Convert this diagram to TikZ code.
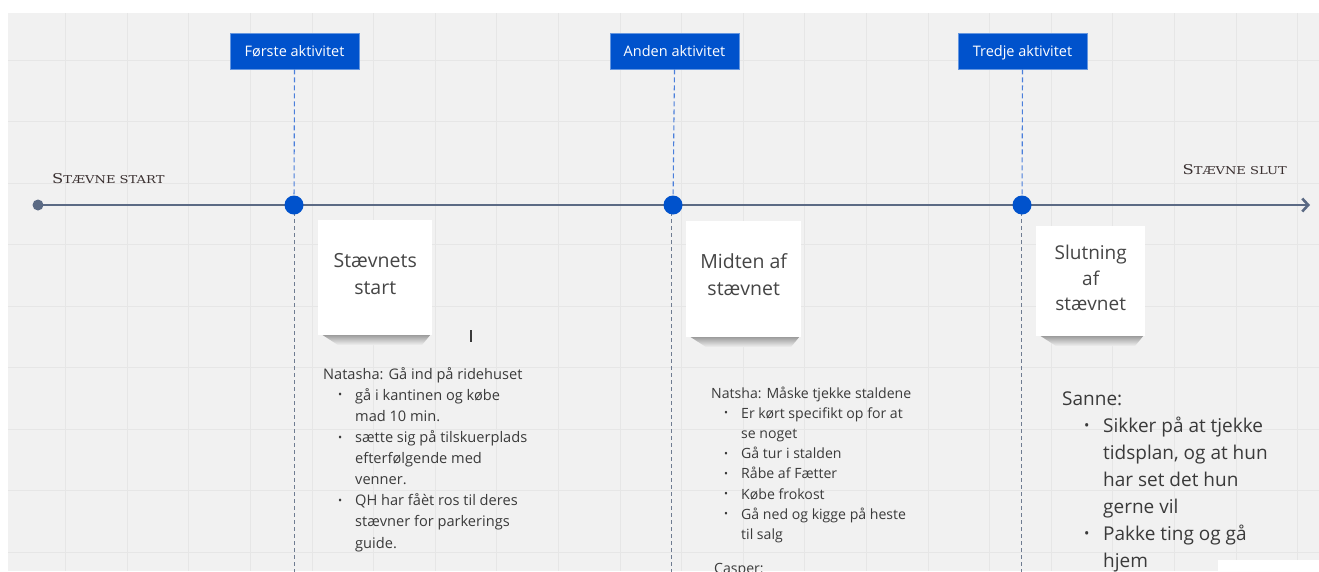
\documentclass[tikz,border=0pt]{standalone}
\usepackage{fontspec}
\newfontfamily\osans{Open Sans}
\newfontfamily\slab{DejaVu Serif}
\usetikzlibrary{arrows.meta}
\definecolor{canvas}{HTML}{F1F1F1}
\definecolor{gridc}{HTML}{E6E6E6}
\definecolor{slate}{HTML}{5B6A84}
\definecolor{actblue}{HTML}{0052CC}
\definecolor{dashblue}{HTML}{4A7FDB}
\definecolor{dashgray}{HTML}{6F7C91}
\definecolor{ink}{HTML}{3A3A3A}
\definecolor{headink}{HTML}{3A3030}
\definecolor{noteink}{HTML}{454545}
\tikzset{
  gridline/.style={gridc, line width=1pt},
  timeline/.style={slate, line width=2.6pt, -{Straight Barb[length=6pt,width=13pt,line width=2.6pt]}},
  startdot/.style={circle, fill=slate, minimum size=11pt, inner sep=0pt},
  bluedot/.style={circle, fill=actblue, minimum size=19pt, inner sep=0pt},
  actbox/.style={rectangle, fill=actblue, draw=actblue!60!white, line width=0.6pt,
    minimum width=129pt, minimum height=36pt, inner sep=0pt, text=white,
    text height=12.5pt, text depth=2.5pt,
    font=\osans\fontsize{14.5}{16}\selectfont},
  dashup/.style={dashblue, line width=1.1pt, dash pattern=on 5pt off 3pt},
  dashdown/.style={dashgray, line width=1pt, dash pattern=on 4pt off 3pt},
  endlabel/.style={text=headink, inner sep=0pt, font=\slab},
  note/.style={rectangle, fill=white!98!canvas, inner sep=0pt, anchor=north west},
  notelabel/.style={inner sep=0pt, align=center, text=noteink},
  notetext/.style={text=ink, inner sep=0pt, anchor=base west, align=left},
}
% small bullet for list items
\newcommand{\bl}[1]{\hspace*{#1}\makebox[0pt][l]{\raisebox{0.1em}{\scalebox{0.75}{•}}}}
% hand-set small capitals, widened
\newcommand{\smc}[2]{\scalebox{1.21}[1]{{\fontsize{13.5}{15}\selectfont #1}{\fontsize{10.8}{15}\selectfont #2}}}
\begin{document}
\begin{tikzpicture}[x=1pt,y=-1pt]
\useasboundingbox (0,0) rectangle (1319,571);
\begin{scope}
\clip (0,0) rectangle (1319,571);
% canvas and grid
\fill[white] (0,0) rectangle (1319,571);
\fill[canvas] (8,13) rectangle (1319,571);
\foreach \i in {0,...,20} \draw[gridline] ({65.7+61.6*\i},13) -- ++(0,558);
\foreach \j in {0,...,8} \draw[gridline] (8,{60+61.5*\j}) -- ++(1311,0);

% activity labels
\node[actbox] (b1) at (294.5,51) {Første aktivitet};
\node[actbox] (b2) at (674.5,51) {Anden aktivitet};
\node[actbox] (b3) at (1022.5,51) {Tredje aktivitet};

% timeline with its milestones
\node[startdot] (s) at (38,205) {};
\coordinate (e) at (1310,205);
\coordinate (d1p) at (294,205);
\coordinate (d2p) at (673,205);
\coordinate (d3p) at (1022,205);
\coordinate (f1) at (294,575);
\coordinate (f2) at (671,575);
\coordinate (f3) at (1021,575);
\draw[dashup] (b1.south) -- (d1p);
\draw[dashup] (b2.south) -- (d2p);
\draw[dashup] (b3.south) -- (d3p);
\draw[dashdown] (d1p) -- (f1);
\draw[dashdown] (671,205) -- (f2);
\draw[dashdown] (1021,205) -- (f3);
\draw[timeline] (s.center) -- (e);
\node[bluedot] (d1) at (d1p) {};
\node[bluedot] (d2) at (d2p) {};
\node[bluedot] (d3) at (d3p) {};

\node[endlabel, anchor=base west] (ls) at (52,183) {\smc{S}{TÆVNE START}};
\node[endlabel, anchor=base east] (le) at (1287,174) {\smc{S}{TÆVNE SLUT}};

% sticky notes with their soft shadows
\foreach \x/\y/\w/\h in {318/220/114/115, 686/221/115/116, 1036/226/109/110}{
  \shade[top color=black!42, bottom color=canvas]
    (\x+3,\y+\h-1) -- (\x+\w-1,\y+\h-1) -- (\x+\w-10,\y+\h+10) -- (\x+20,\y+\h+10) -- cycle;
}
\node[note, minimum width=114pt, minimum height=115pt] (n1) at (318,220) {};
\node[note, minimum width=115pt, minimum height=116pt] (n2) at (686,221) {};
\node[note, minimum width=109pt, minimum height=110pt] (n3) at (1036,226) {};
\node[notelabel, font=\osans\fontsize{19.5}{27}\selectfont] (n1t)
  at ([yshift=3.5pt]n1.center) {Stævnets\\start};
\node[notelabel, font=\osans\fontsize{19.5}{27}\selectfont] (n2t)
  at ([yshift=5pt]n2.center) {Midten af\\stævnet};
\node[notelabel, font=\osans\fontsize{19}{25.5}\selectfont] (n3t)
  at ([yshift=3pt]n3.center) {Slutning\\af\\stævnet};

% text cursor
\draw[ink, line width=1.1pt] (471,330) -- (471,342);

% notes under each milestone (anchored at the baseline of the last line)
\node[notetext, font=\osans\fontsize{14.6}{21.1}\selectfont] (t1) at (323,548) {%
Natasha: Gå ind på ridehuset\\
\bl{15pt}\hspace*{17pt}gå i kantinen og købe\\
\hspace*{32pt}mad 10 min.\\
\bl{15pt}\hspace*{17pt}sætte sig på tilskuerplads\\
\hspace*{32pt}efterfølgende med\\
\hspace*{32pt}venner.\\
\bl{15pt}\hspace*{17pt}QH har fåèt ros til deres\\
\hspace*{32pt}stævner for parkerings\\
\hspace*{32pt}guide.};

\node[notetext, font=\osans\fontsize{14.1}{20.2}\selectfont] (t2) at (711,539.5) {%
Natsha: Måske tjekke staldene\\
\bl{13pt}\hspace*{17pt}Er kørt specifikt op for at\\
\hspace*{30pt}se noget\\
\bl{13pt}\hspace*{17pt}Gå tur i stalden\\
\bl{13pt}\hspace*{17pt}Råbe af Fætter\\
\bl{13pt}\hspace*{17pt}Købe frokost\\
\bl{13pt}\hspace*{17pt}Gå ned og kigge på heste\\
\hspace*{30pt}til salg};
\node[notetext, font=\osans\fontsize{14.1}{20.2}\selectfont] (t2b) at (714,573) {Casper:};

\node[notetext, font=\osans\fontsize{19}{27}\selectfont] (t3) at (1062,567.5) {%
Sanne:\\
\bl{22pt}\hspace*{19pt}Sikker på at tjekke\\
\hspace*{41pt}tidsplan, og at hun\\
\hspace*{41pt}har set det hun\\
\hspace*{41pt}gerne vil\\
\bl{22pt}\hspace*{19pt}Pakke ting og gå\\
\hspace*{41pt}hjem};

% white corner patch
\fill[white] (1218,560) rectangle (1319,571);
\end{scope}
\end{tikzpicture}
\end{document}
